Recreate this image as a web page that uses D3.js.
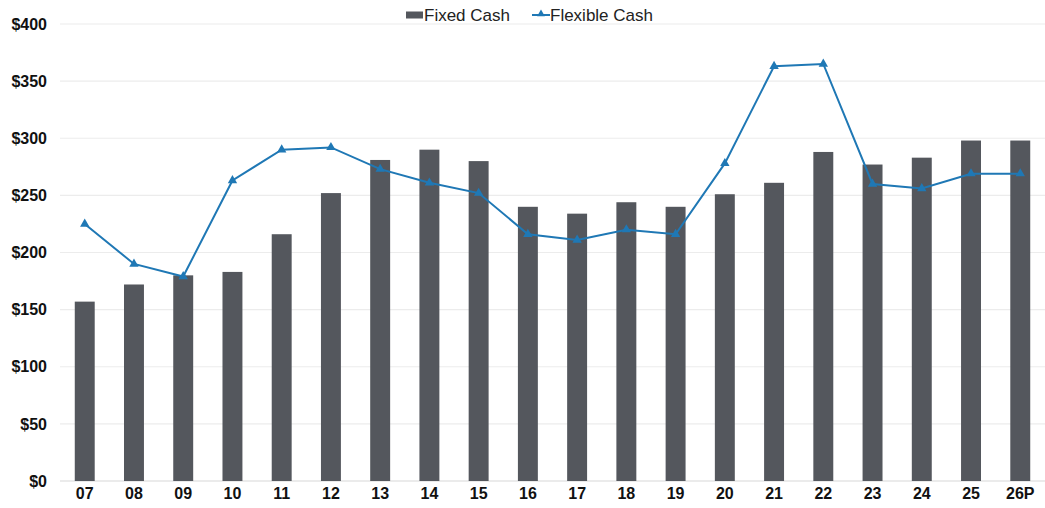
<!DOCTYPE html>
<html>
<head>
<meta charset="utf-8">
<script src="https://cdn.jsdelivr.net/npm/d3@7"></script>
<style>
  html, body { margin: 0; padding: 0; background: #fff; }
  svg { display: block; }
  text { font-family: "Liberation Sans", Arial, Helvetica, sans-serif; }
</style>
</head>
<body>
<svg id="chart" width="1045" height="508"></svg>
<script>
const categories = ["07","08","09","10","11","12","13","14","15","16","17","18","19","20","21","22","23","24","25","26P"];
const fixedCash = [157,172,180,183,216,252,281,290,280,240,234,244,240,251,261,288,277,283,298,298];
const flexibleCash = [225,190,179,263,290,292,273,261,252,216,211,220,216,278,363,365,260,256,269,269];
const yTicks = [0,50,100,150,200,250,300,350,400];
const seriesNames = ["Fixed Cash","Flexible Cash"];

const barColor = "#54575d";
const lineColor = "#1f78b5";

const svg = d3.select("#chart");
const margin = {left: 60, right: 0, top: 24, bottom: 27};
const W = 1045, H = 508;

const x = d3.scaleBand().domain(categories).range([margin.left, W - margin.right]).paddingInner(0.595).paddingOuter(0.3);
const y = d3.scaleLinear().domain([0,400]).range([481, 24]);

// gridlines
svg.append("g").selectAll("line").data(yTicks).join("line")
  .attr("x1", margin.left).attr("x2", W)
  .attr("y1", d => y(d)).attr("y2", d => y(d))
  .attr("stroke", d => d === 0 ? "#d8d8d8" : "#ececec")
  .attr("stroke-width", 1.2);

// y axis labels
const yAxis = d3.axisLeft(y).tickValues(yTicks).tickSize(0).tickPadding(0).tickFormat(d => "$" + d);
const gy = svg.append("g").attr("transform", `translate(47,0)`).call(yAxis);
gy.select(".domain").remove();
gy.selectAll("text").attr("font-size", 16).attr("font-weight", "bold").attr("fill", "#111")
  .attr("font-family", "'Liberation Sans', Arial, sans-serif");

// bars
svg.append("g").selectAll("rect").data(categories).join("rect")
  .attr("x", d => x(d))
  .attr("width", x.bandwidth())
  .attr("y", (d,i) => y(fixedCash[i]))
  .attr("height", (d,i) => y(0) - y(fixedCash[i]))
  .attr("fill", barColor);

// x axis labels
const xAxis = d3.axisBottom(x).tickSize(0).tickPadding(0);
const gx = svg.append("g").attr("transform", `translate(0,488)`).call(xAxis);
gx.select(".domain").remove();
gx.selectAll("text").attr("font-size", 16).attr("font-weight", "bold").attr("fill", "#111")
  .attr("font-family", "'Liberation Sans', Arial, sans-serif");

// line
const line = d3.line().x((d,i) => x(categories[i]) + x.bandwidth()/2).y(d => y(d));
svg.append("path").datum(flexibleCash)
  .attr("d", line).attr("fill", "none").attr("stroke", lineColor).attr("stroke-width", 2);

const tri = d3.symbol().type(d3.symbolTriangle).size(38);
svg.append("g").selectAll("path").data(flexibleCash).join("path")
  .attr("d", tri)
  .attr("transform", (d,i) => `translate(${x(categories[i]) + x.bandwidth()/2},${y(d)})`)
  .attr("fill", lineColor);

// legend
const lg = svg.append("g");
lg.append("rect").attr("x", 406).attr("y", 11.5).attr("width", 17).attr("height", 7).attr("fill", barColor);
lg.append("text").attr("x", 424).attr("y", 20.5).attr("font-size", 17).attr("fill", "#222").text(seriesNames[0]);
lg.append("line").attr("x1", 532).attr("x2", 550).attr("y1", 15).attr("y2", 15).attr("stroke", lineColor).attr("stroke-width", 2);
lg.append("path").attr("d", d3.symbol().type(d3.symbolTriangle).size(26)).attr("transform", "translate(541,14)").attr("fill", lineColor);
lg.append("text").attr("x", 550).attr("y", 20.5).attr("font-size", 17).attr("fill", "#222").text(seriesNames[1]);
</script>
</body>
</html>
